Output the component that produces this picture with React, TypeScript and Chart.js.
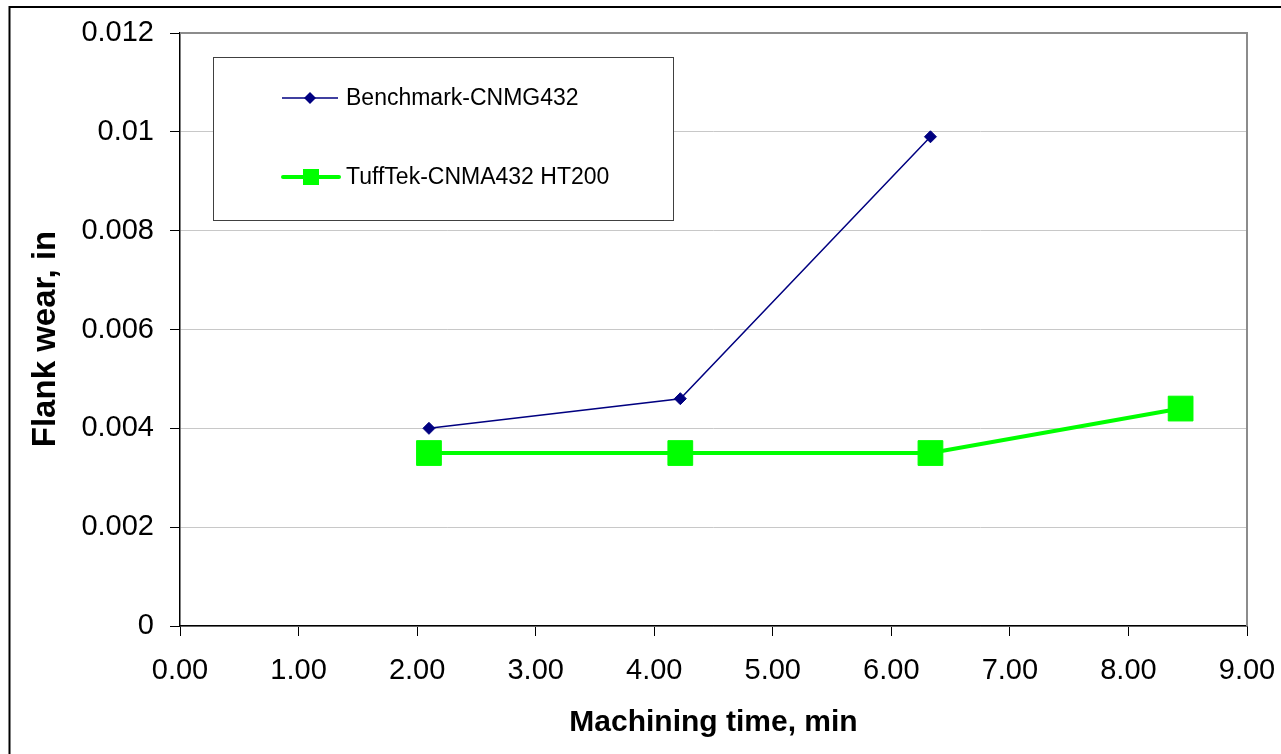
import React, { useEffect, useRef } from "react";
import { Chart, registerables } from "chart.js";

Chart.register(...registerables);

const seriesNames = ["Benchmark-CNMG432", "TuffTek-CNMA432 HT200"];
const benchmarkTime = [2.1, 4.22, 6.33];
const benchmarkWear = [0.004, 0.0046, 0.0099];
const tuffTekTime = [2.1, 4.22, 6.33, 8.44];
const tuffTekWear = [0.0035, 0.0035, 0.0035, 0.0044];
const xTickLabels = ["0.00", "1.00", "2.00", "3.00", "4.00", "5.00", "6.00", "7.00", "8.00", "9.00"];
const yTickLabels = ["0", "0.002", "0.004", "0.006", "0.008", "0.01", "0.012"];
const xTitle = "Machining time, min";
const yTitle = "Flank wear, in";

const FONT = "'Liberation Sans', Arial, sans-serif";
const NAVY = "#000080";
const GREEN = "#00ff00";

const framePlugin = {
  id: "frame",
  beforeDatasetsDraw(chart: any) {
    const { ctx, chartArea } = chart;
    ctx.save();
    ctx.strokeStyle = "#8c8c8c";
    ctx.lineWidth = 2;
    ctx.beginPath();
    ctx.moveTo(chartArea.left, chartArea.top);
    ctx.lineTo(chartArea.right, chartArea.top);
    ctx.lineTo(chartArea.right, chartArea.bottom);
    ctx.stroke();
    ctx.restore();
  },
  afterDraw(chart: any) {
    const { ctx } = chart;
    ctx.save();
    // outer border
    ctx.strokeStyle = "#000";
    ctx.lineWidth = 2;
    ctx.beginPath();
    ctx.moveTo(9.5, 760);
    ctx.lineTo(9.5, 7);
    ctx.lineTo(1290, 7);
    ctx.stroke();

    // y axis title
    ctx.save();
    ctx.translate(46, 339);
    ctx.rotate(-Math.PI / 2);
    ctx.font = `bold 33px ${FONT}`;
    ctx.fillStyle = "#000";
    ctx.textAlign = "center";
    ctx.textBaseline = "middle";
    ctx.fillText(yTitle, 0, 0);
    ctx.restore();

    // legend box
    const bx = 213.5, by = 57.5, bw = 460, bh = 163;
    ctx.fillStyle = "#fff";
    ctx.fillRect(bx, by, bw, bh);
    ctx.strokeStyle = "#404040";
    ctx.lineWidth = 1;
    ctx.strokeRect(bx, by, bw, bh);

    const ds = chart.data.datasets;
    ctx.font = `23px ${FONT}`;
    ctx.textBaseline = "middle";
    ctx.textAlign = "left";
    // entry 1
    let y = 98;
    ctx.strokeStyle = NAVY;
    ctx.lineWidth = 1.5;
    ctx.beginPath();
    ctx.moveTo(282, y);
    ctx.lineTo(338, y);
    ctx.stroke();
    ctx.fillStyle = NAVY;
    ctx.beginPath();
    ctx.moveTo(310, y - 6);
    ctx.lineTo(316, y);
    ctx.lineTo(310, y + 6);
    ctx.lineTo(304, y);
    ctx.closePath();
    ctx.fill();
    ctx.fillStyle = "#000";
    ctx.fillText(ds[0].label, 346, y + 1);
    // entry 2
    y = 177;
    ctx.strokeStyle = GREEN;
    ctx.lineWidth = 4;
    ctx.lineCap = "round";
    ctx.beginPath();
    ctx.moveTo(283, y);
    ctx.lineTo(339, y);
    ctx.stroke();
    ctx.fillStyle = GREEN;
    ctx.fillRect(303, y - 8, 16, 16);
    ctx.fillStyle = "#000";
    ctx.fillText(ds[1].label, 346, y + 1);
    ctx.restore();
  },
};

export default function App() {
  const ref = useRef<HTMLCanvasElement | null>(null);

  useEffect(() => {
    if (!ref.current) return;
    const chart = new Chart(ref.current, {
      type: "line",
      data: {
        datasets: [
          {
            label: seriesNames[0],
            data: benchmarkTime.map((t, i) => ({ x: t, y: benchmarkWear[i] })),
            borderColor: NAVY,
            backgroundColor: NAVY,
            borderWidth: 1.5,
            pointStyle: "rectRot",
            pointRadius: 6,
            pointBorderWidth: 1,
            pointBackgroundColor: NAVY,
            pointBorderColor: NAVY,
            tension: 0,
          },
          {
            label: seriesNames[1],
            data: tuffTekTime.map((t, i) => ({ x: t, y: tuffTekWear[i] })),
            borderColor: GREEN,
            backgroundColor: GREEN,
            borderWidth: 4,
            pointStyle: "rect",
            pointRadius: 17.5,
            pointBorderWidth: 1,
            pointBackgroundColor: GREEN,
            pointBorderColor: GREEN,
            tension: 0,
          },
        ],
      },
      options: {
        animation: false,
        responsive: false,
        maintainAspectRatio: false,
        layout: { padding: { left: 0, top: 33, right: 34, bottom: 0 } },
        plugins: {
          legend: { display: false },
          tooltip: { enabled: false },
        },
        scales: {
          x: {
            type: "linear",
            min: 0,
            max: 9,
            afterFit: (s: any) => {
              s.height = 128;
              s.paddingLeft = 0;
              s.paddingRight = 0;
            },
            ticks: {
              stepSize: 1,
              color: "#000",
              font: { family: FONT, size: 29 },
              padding: 18,
              maxRotation: 0,
              callback: (_v: any, i: number) => xTickLabels[i],
            },
            grid: {
              drawOnChartArea: false,
              color: "#000",
              tickColor: "#000",
              tickLength: 10,
            },
            border: { color: "#000", width: 1.5 },
            title: {
              display: true,
              text: xTitle,
              color: "#000",
              font: { family: FONT, size: 30, weight: "bold" },
              padding: { top: 0, bottom: 13 },
            },
          },
          y: {
            min: 0,
            max: 0.012,
            afterFit: (s: any) => {
              s.width = 180;
              s.paddingTop = 0;
              s.paddingBottom = 0;
            },
            ticks: {
              stepSize: 0.002,
              color: "#000",
              font: { family: FONT, size: 29 },
              padding: 16,
              callback: (_v: any, i: number) => yTickLabels[i],
            },
            grid: {
              color: "#c8c8c8",
              lineWidth: 1,
              tickColor: "#000",
              tickLength: 10,
            },
            border: { color: "#000", width: 1.5 },
            title: { display: false },
          },
        },
      },
      plugins: [framePlugin],
    });
    return () => chart.destroy();
  }, []);

  return (
    <div
      style={{
        position: "fixed",
        left: 0,
        top: 0,
        width: 1281,
        height: 754,
        background: "#fff",
      }}
    >
      <canvas ref={ref} width={1281} height={754} style={{ display: "block" }} />
    </div>
  );
}
